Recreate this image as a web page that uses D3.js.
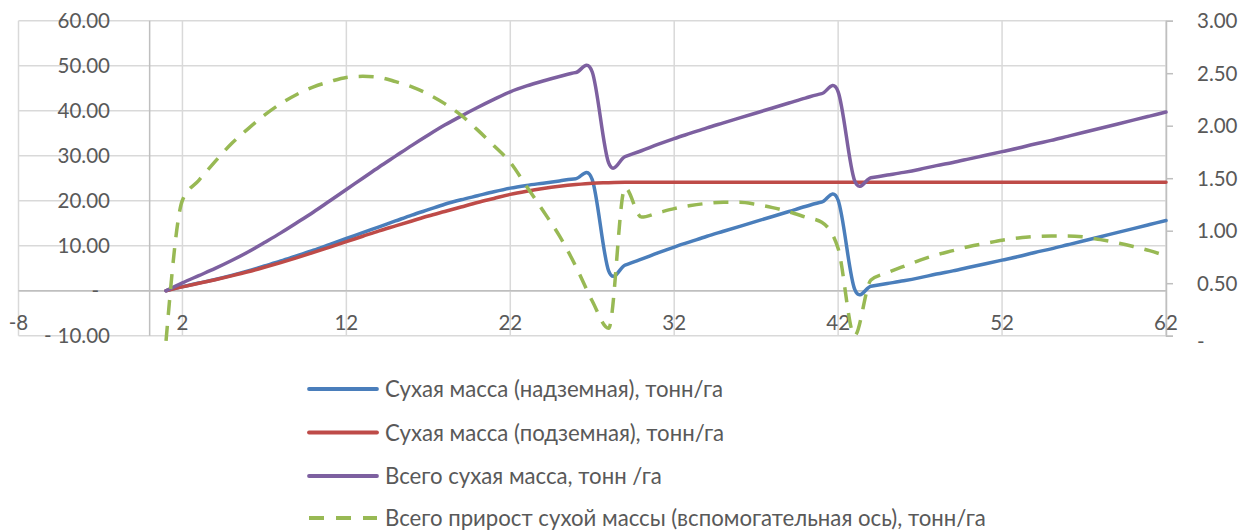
<!DOCTYPE html>
<html>
<head>
<meta charset="utf-8">
<script src="https://cdn.jsdelivr.net/npm/d3@7"></script>
<style>
  html, body { margin: 0; padding: 0; background: #ffffff; }
  svg { display: block; }
  text { font-family: Lato, "Open Sans", sans-serif; fill: #595959; }
</style>
</head>
<body>
<svg id="chart" width="1250" height="531"></svg>
<script>
// ---------- data ----------
const days = [1,2,3,4,5,6,7,8,9,10,11,12,13,14,15,16,17,18,19,20,21,22,23,24,25,26,27,28,29,30,31,32,33,34,35,36,37,38,39,40,41,42,43,44,45,46,47,48,49,50,51,52,53,54,55,56,57,58,59,60,61,62];

const aboveGround = [0,0.9,1.7,2.5,3.4,4.4,5.5,6.6,7.8,9.0,10.3,11.6,12.9,14.2,15.5,16.8,18.0,19.2,20.2,21.1,22.0,22.8,23.4,23.9,24.4,24.9,24.7,4.4,5.7,7.0,8.4,9.7,10.9,12.1,13.2,14.3,15.4,16.5,17.6,18.7,19.7,20.1,0.4,1.0,1.6,2.2,2.9,3.7,4.4,5.2,6.0,6.8,7.6,8.5,9.3,10.2,11.1,12.0,12.9,13.8,14.7,15.6];

const belowGround = [0,0.85,1.65,2.45,3.3,4.2,5.2,6.25,7.35,8.5,9.7,10.9,12.1,13.3,14.4,15.5,16.6,17.6,18.6,19.6,20.5,21.4,22.1,22.7,23.2,23.6,23.9,24.0,24.1,24.1,24.1,24.1,24.1,24.1,24.1,24.1,24.1,24.1,24.1,24.1,24.1,24.1,24.1,24.1,24.1,24.1,24.1,24.1,24.1,24.1,24.1,24.1,24.1,24.1,24.1,24.1,24.1,24.1,24.1,24.1,24.1,24.1];

const totalMass = [0,1.75,3.35,4.95,6.7,8.6,10.7,12.85,15.15,17.5,20.0,22.5,25.0,27.5,29.9,32.3,34.6,36.8,38.8,40.7,42.5,44.2,45.5,46.6,47.6,48.5,48.6,28.4,29.8,31.1,32.5,33.8,35.0,36.2,37.3,38.4,39.5,40.6,41.7,42.8,43.8,44.2,24.5,25.1,25.7,26.3,27.0,27.8,28.5,29.3,30.1,30.9,31.7,32.6,33.4,34.3,35.2,36.1,37.0,37.9,38.8,39.7];

const totalGrowth = [-0.05,1.29,1.48,1.66,1.83,1.97,2.10,2.21,2.30,2.37,2.42,2.46,2.47,2.46,2.42,2.37,2.30,2.21,2.10,1.96,1.81,1.65,1.42,1.19,0.95,0.66,0.33,0.07,1.41,1.13,1.17,1.21,1.24,1.26,1.27,1.27,1.25,1.22,1.18,1.13,1.08,0.83,0.0,0.53,0.60,0.66,0.72,0.77,0.81,0.85,0.88,0.91,0.93,0.945,0.95,0.95,0.94,0.915,0.885,0.85,0.81,0.76];

const xTicks = [-8,2,12,22,32,42,52,62];
const leftTicks = [-10,0,10,20,30,40,50,60];
const rightTicks = [0,0.5,1,1.5,2,2.5,3];

const seriesNames = [
  "Сухая масса (надземная), тонн/га",
  "Сухая масса (подземная), тонн/га",
  "Всего сухая масса, тонн /га",
  "Всего прирост сухой массы (вспомогательная ось), тонн/га"
];
const seriesColors = ["#4A7EBB", "#BE4B48", "#7D60A0", "#98B954"];

// ---------- layout ----------
const svg = d3.select("#chart");
svg.append("rect").attr("width", 1250).attr("height", 531).attr("fill", "#ffffff");

const x = d3.scaleLinear().domain([-8, 62]).range([18.5, 1166]);
const yL = d3.scaleLinear().domain([-10, 60]).range([335.7, 20.7]);
const yR = d3.scaleLinear().domain([0, 3]).range([335.7, 20.7]);

const grid = svg.append("g");
grid.selectAll("line.h").data(leftTicks).enter().append("line")
  .attr("x1", x(-8)).attr("x2", x(62))
  .attr("y1", d => yL(d)).attr("y2", d => yL(d))
  .attr("stroke", d => d === 0 ? "#BFBFBF" : "#D9D9D9")
  .attr("stroke-width", 1.5);
grid.selectAll("line.v").data(xTicks).enter().append("line")
  .attr("x1", d => x(d)).attr("x2", d => x(d))
  .attr("y1", yL(60)).attr("y2", yL(-10))
  .attr("stroke", "#D9D9D9")
  .attr("stroke-width", 1.5);
grid.append("line")
  .attr("x1", x(0)).attr("x2", x(0))
  .attr("y1", yL(60)).attr("y2", yL(-10))
  .attr("stroke", "#BFBFBF").attr("stroke-width", 1.5);
grid.append("line")
  .attr("x1", x(-8)).attr("x2", x(62))
  .attr("y1", yL(0)).attr("y2", yL(0))
  .attr("stroke", "#BFBFBF").attr("stroke-width", 1.5);

// right (secondary) axis
const rAxis = svg.append("g").attr("transform", `translate(${x(62)},0)`)
  .call(d3.axisRight(yR).tickValues(rightTicks).tickSize(7).tickPadding(24)
        .tickFormat(d => d === 0 ? "-" : d3.format(".2f")(d)));
rAxis.select(".domain").attr("stroke", "#BFBFBF").attr("stroke-width", 1.5);
rAxis.selectAll(".tick line").attr("stroke", "#BFBFBF").attr("stroke-width", 1.5);
rAxis.selectAll(".tick text")
  .attr("font-size", 20.5).attr("fill", "#595959").attr("dy", "0.34em")
  .attr("font-family", "Lato, 'Open Sans', sans-serif")
  .filter(d => d === 0).attr("dy", "0.6em");

// left axis labels
const lAxis = svg.append("g");
lAxis.selectAll("text.num").data(leftTicks).enter().append("text")
  .attr("x", d => d === 0 ? 99 : 110)
  .attr("y", d => yL(d))
  .attr("dy", "0.35em")
  .attr("text-anchor", "end")
  .attr("font-size", 20.5)
  .text(d => d === 0 ? "-" : d3.format(".2f")(Math.abs(d)));
lAxis.selectAll("text.neg").data(leftTicks.filter(d => d < 0)).enter().append("text")
  .attr("x", 44)
  .attr("y", d => yL(d))
  .attr("dy", "0.35em")
  .attr("font-size", 20.5)
  .text("-");

// x axis labels
svg.append("g").selectAll("text").data(xTicks).enter().append("text")
  .attr("x", d => x(d))
  .attr("y", 329.5)
  .attr("text-anchor", "middle")
  .attr("font-size", 20.5)
  .text(d => d);

// ---------- series ----------
const lineL = d3.line().x((d, i) => x(days[i])).y(d => yL(d)).curve(d3.curveCardinal.tension(0));
const lineR = d3.line().x((d, i) => x(days[i])).y(d => yR(d)).curve(d3.curveMonotoneX);

const plot = svg.append("g");
[aboveGround, belowGround, totalMass].forEach((s, k) => {
  plot.append("path").attr("d", lineL(s))
    .attr("fill", "none").attr("stroke", seriesColors[k])
    .attr("stroke-width", 3.5).attr("stroke-linejoin", "round").attr("stroke-linecap", "round");
});
plot.append("path").attr("d", lineR(totalGrowth))
  .attr("fill", "none").attr("stroke", seriesColors[3])
  .attr("stroke-width", 3.5).attr("stroke-dasharray", "15,11");

// ---------- legend ----------
const legendY = [389, 432.5, 476, 518];
const legend = svg.append("g");
seriesNames.forEach((name, k) => {
  const g = legend.append("g").attr("transform", `translate(0,${legendY[k]})`);
  g.append("line").attr("x1", 309).attr("x2", 377).attr("y1", 0).attr("y2", 0)
    .attr("stroke", seriesColors[k]).attr("stroke-width", 3.8)
    .attr("stroke-linecap", k === 3 ? "butt" : "round")
    .attr("stroke-dasharray", k === 3 ? "15,12" : null);
  g.append("text").attr("x", 385).attr("y", 0).attr("dy", "0.36em")
    .attr("font-size", 22.2).text(name);
});
</script>
</body>
</html>
